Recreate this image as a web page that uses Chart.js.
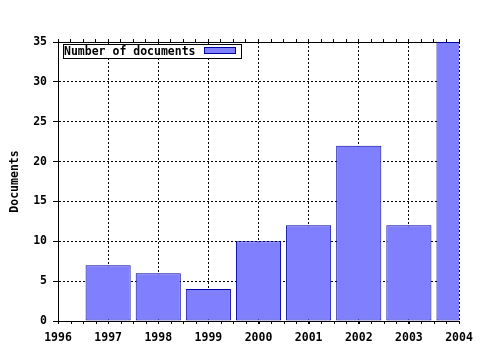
<!DOCTYPE html>
<html><head><meta charset="utf-8">
<script src="https://cdn.jsdelivr.net/npm/chart.js@4/dist/chart.umd.min.js"></script>
<style>html,body{margin:0;padding:0;background:#fff}#wrap{width:480px;height:350px}</style>
</head><body><div id="wrap"><canvas id="c" width="480" height="350"></canvas></div>
<script>
const years = [1997, 1998, 1999, 2000, 2001, 2002, 2003, 2004];
const documents = [7, 6, 4, 10, 12, 22, 12, 35];
const seriesLabel = 'Number of documents';
const axisTitle = 'Documents';
const xMin = 1996, xMax = 2004;
const yMin = 0, yMax = 35, yStep = 5;
const minorStep = 0.25;

const FONT = {family: '"DejaVu Sans Mono", "Liberation Mono", monospace', size: 11.5, weight: 'bold'};
const fill = '#8080ff', edge = '#0000a0';

const extras = {
  id: 'extras',
  afterDraw(chart) {
    const ctx = chart.ctx, a = chart.chartArea, sx = chart.scales.x;
    ctx.save();
    ctx.strokeStyle = '#000'; ctx.lineWidth = 1;
    ctx.beginPath();
    for (let v = xMin; v <= xMax + 1e-9; v += minorStep) {
      const px = Math.round(sx.getPixelForValue(v)) + 0.5;
      ctx.moveTo(px, a.bottom);
      ctx.lineTo(px, a.bottom + 3);
    }
    ctx.stroke();
    const x = a.left + 5, y = a.top + 2, w = 178, h = 14;
    ctx.fillStyle = '#fff';
    ctx.fillRect(x, y, w, h);
    ctx.strokeStyle = '#000';
    ctx.strokeRect(x + 0.5, y + 0.5, w, h);
    ctx.fillStyle = '#000';
    ctx.font = `${FONT.weight} ${FONT.size}px ${FONT.family}`;
    ctx.textBaseline = 'middle';
    ctx.textAlign = 'left';
    ctx.fillText(chart.data.datasets[0].label, x + 1, y + h / 2 + 1);
    ctx.fillStyle = fill;
    ctx.fillRect(x + 141, y + 3, 32, 7);
    ctx.strokeStyle = edge;
    ctx.strokeRect(x + 141.5, y + 3.5, 31, 6);
    ctx.restore();
  }
};

new Chart(document.getElementById('c'), {
  type: 'bar',
  data: {
    datasets: [{
      label: seriesLabel,
      data: years.map((yr, i) => ({x: yr, y: documents[i]})),
      backgroundColor: fill,
      borderColor: edge,
      borderWidth: 1,
      borderSkipped: false,
      barPercentage: 0.9,
      categoryPercentage: 1.0,
      clip: 0,
      xAxisID: 'x'
    }]
  },
  options: {
    responsive: false,
    animation: false,
    devicePixelRatio: 1,
    layout: {padding: {left: 0, right: 21, top: 0, bottom: 0}},
    plugins: {legend: {display: false}, tooltip: {enabled: false}},
    scales: {
      x: {
        type: 'linear', position: 'bottom', min: xMin, max: xMax, offset: false,
        afterFit(s) { s.height = 29; },
        ticks: {stepSize: 1, autoSkip: false, maxRotation: 0, padding: 7, color: '#000', font: FONT,
                callback: v => String(v)},
        grid: {offset: false, color: '#000', tickColor: '#000', tickLength: 3, lineWidth: 1},
        border: {display: true, color: '#000', width: 1, dash: [2, 2]}
      },
      x2: {
        type: 'linear', position: 'top', min: xMin, max: xMax, offset: false,
        afterFit(s) { s.height = 42; },
        ticks: {stepSize: minorStep, display: false, autoSkip: false},
        grid: {offset: false, drawOnChartArea: false, tickColor: '#000', tickLength: 3},
        border: {display: true, color: '#000', width: 1}
      },
      y: {
        min: yMin, max: yMax,
        afterFit(s) { s.width = 58; },
        ticks: {stepSize: yStep, color: '#000', font: FONT, padding: 6},
        grid: {color: '#000', tickColor: '#000', tickLength: 5, lineWidth: 1},
        border: {display: true, color: '#000', width: 1, dash: [2, 2]},
        title: {display: true, text: axisTitle, color: '#000', font: FONT, padding: {top: 8, bottom: 0}}
      }
    }
  },
  plugins: [extras]
});
</script></body></html>
